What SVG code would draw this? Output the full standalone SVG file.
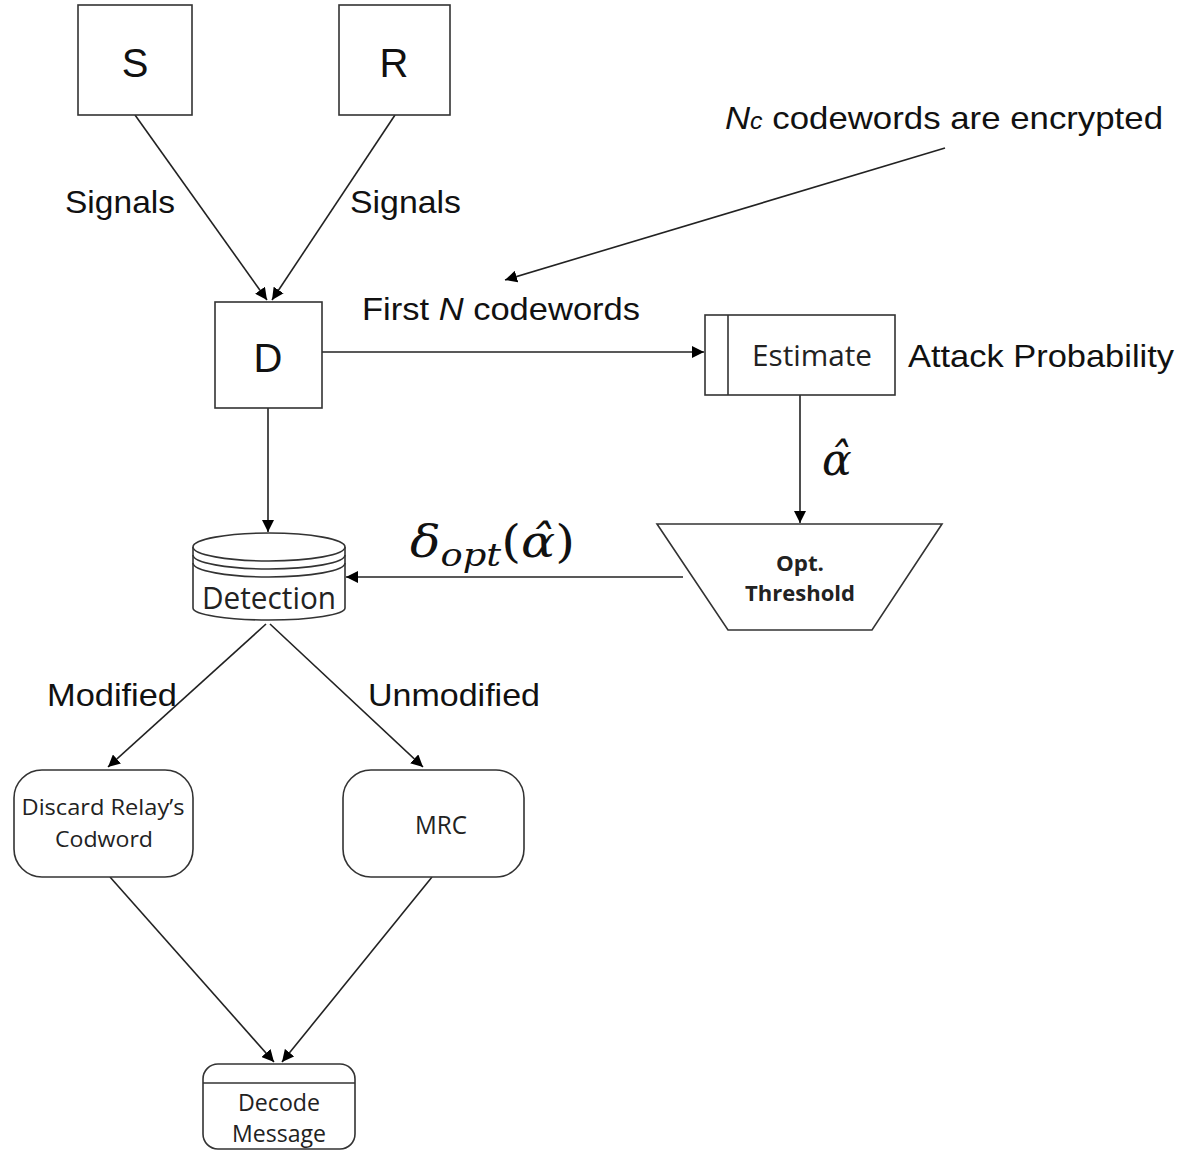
<svg xmlns="http://www.w3.org/2000/svg" width="1192" height="1150" viewBox="0 0 1192 1150">
<defs>
<marker id="ah" viewBox="0 0 10 10" refX="10" refY="5" markerWidth="12" markerHeight="12" markerUnits="userSpaceOnUse" orient="auto"><path d="M0,0 L10,5 L0,10 z" fill="#000"/></marker>
<style>
.box{fill:#fff;stroke:#333;stroke-width:1.6}
.ln{fill:none;stroke:#222;stroke-width:1.6;marker-end:url(#ah)}
.big{font-family:"Liberation Sans",Arial,sans-serif;font-size:40px;fill:#111;text-anchor:middle}
.lbl{font-family:"Liberation Sans",Arial,sans-serif;font-size:32px;fill:#111}
.cal{font-family:"Open Sans","Noto Sans",sans-serif;fill:#222;text-anchor:middle}
.calb{font-family:"Open Sans","Noto Sans",sans-serif;font-size:22px;font-weight:bold;fill:#222;text-anchor:middle}
.math{font-family:"DejaVu Serif","Liberation Serif",serif;font-style:italic;fill:#111}
</style>
</defs>
<rect width="1192" height="1150" fill="#fff"/>
<g id="connectors">
<line class="ln" x1="135" y1="115" x2="267" y2="300"/>
<line class="ln" x1="395" y1="115" x2="272" y2="300"/>
<line class="ln" x1="945" y1="148" x2="505" y2="280"/>
<line class="ln" x1="322" y1="352" x2="704" y2="352"/>
<line class="ln" x1="268" y1="408" x2="268" y2="532"/>
<line class="ln" x1="800" y1="395" x2="800" y2="523"/>
<line class="ln" x1="683" y1="577" x2="346" y2="577"/>
<line class="ln" x1="266" y1="624" x2="108" y2="767"/>
<line class="ln" x1="270" y1="624" x2="423" y2="767"/>
<line class="ln" x1="110" y1="877" x2="274" y2="1062"/>
<line class="ln" x1="432" y1="877" x2="282" y2="1062"/>
</g>
<g id="node-S"><rect class="box" x="78" y="5" width="114" height="110"/><text class="big" x="135" y="77">S</text></g>
<g id="node-R"><rect class="box" x="339" y="5" width="111" height="110"/><text class="big" x="394" y="77">R</text></g>
<g id="node-D"><rect class="box" x="215" y="302" width="107" height="106"/><text class="big" x="268" y="372">D</text></g>
<g id="node-estimate"><rect class="box" x="705" y="315" width="190" height="80"/><line x1="728" y1="315" x2="728" y2="395" stroke="#333" stroke-width="1.6"/><text class="cal" x="812" y="366" font-size="29" textLength="120" lengthAdjust="spacingAndGlyphs">Estimate</text></g>
<g id="node-threshold"><polygon class="box" points="657,524 942,524 872,630 728,630"/><text class="calb" x="800" y="571" textLength="48" lengthAdjust="spacingAndGlyphs">Opt.</text><text class="calb" x="800" y="601" textLength="110" lengthAdjust="spacingAndGlyphs">Threshold</text></g>
<g id="node-detection">
<path class="box" d="M193,547 L193,608 A76,12 0 0 0 345,608 L345,547"/>
<ellipse class="box" cx="269" cy="547" rx="76" ry="14"/>
<path d="M193,555 A76,14 0 0 0 345,555" fill="none" stroke="#333" stroke-width="1.6"/>
<path d="M193,563 A76,14 0 0 0 345,563" fill="none" stroke="#333" stroke-width="1.6"/>
<text class="cal" x="269" y="609" font-size="31" textLength="134" lengthAdjust="spacingAndGlyphs">Detection</text>
</g>
<g id="node-discard"><rect class="box" x="14" y="770" width="179" height="107" rx="28"/><text class="cal" x="103" y="815" font-size="22" textLength="163" lengthAdjust="spacingAndGlyphs">Discard Relay’s</text><text class="cal" x="104" y="847" font-size="22" textLength="98" lengthAdjust="spacingAndGlyphs">Codword</text></g>
<g id="node-mrc"><rect class="box" x="343" y="770" width="181" height="107" rx="28"/><text class="cal" x="441" y="834" font-size="26" textLength="52" lengthAdjust="spacingAndGlyphs">MRC</text></g>
<g id="node-decode"><rect class="box" x="203" y="1064" width="152" height="85" rx="15"/><line x1="203" y1="1083" x2="355" y2="1083" stroke="#333" stroke-width="1.6"/><text class="cal" x="279" y="1111" font-size="23" textLength="82" lengthAdjust="spacingAndGlyphs">Decode</text><text class="cal" x="279" y="1142" font-size="23" textLength="94" lengthAdjust="spacingAndGlyphs">Message</text></g>
<g id="labels">
<text class="lbl" x="65" y="213" textLength="110" lengthAdjust="spacingAndGlyphs">Signals</text>
<text class="lbl" x="350" y="213" textLength="111" lengthAdjust="spacingAndGlyphs">Signals</text>
<text class="lbl" x="362" y="320" textLength="278" lengthAdjust="spacingAndGlyphs">First <tspan font-style="italic">N</tspan> codewords</text>
<text class="lbl" x="725" y="129" textLength="438" lengthAdjust="spacingAndGlyphs"><tspan font-style="italic">N</tspan><tspan font-style="italic" font-size="23">c</tspan> codewords are encrypted</text>
<text class="lbl" x="908" y="367" textLength="266" lengthAdjust="spacingAndGlyphs">Attack Probability</text>
<text class="lbl" x="47" y="706" textLength="130" lengthAdjust="spacingAndGlyphs">Modified</text>
<text class="lbl" x="368" y="706" textLength="172" lengthAdjust="spacingAndGlyphs">Unmodified</text>
<text class="math" x="822" y="475" font-size="44">α̂</text>
<text class="math" x="410" y="557" font-size="44" textLength="165" lengthAdjust="spacingAndGlyphs">δ<tspan font-size="32" dy="9">opt</tspan><tspan dy="-9" font-style="normal">(</tspan>α̂<tspan font-style="normal">)</tspan></text>
</g>
</svg>
